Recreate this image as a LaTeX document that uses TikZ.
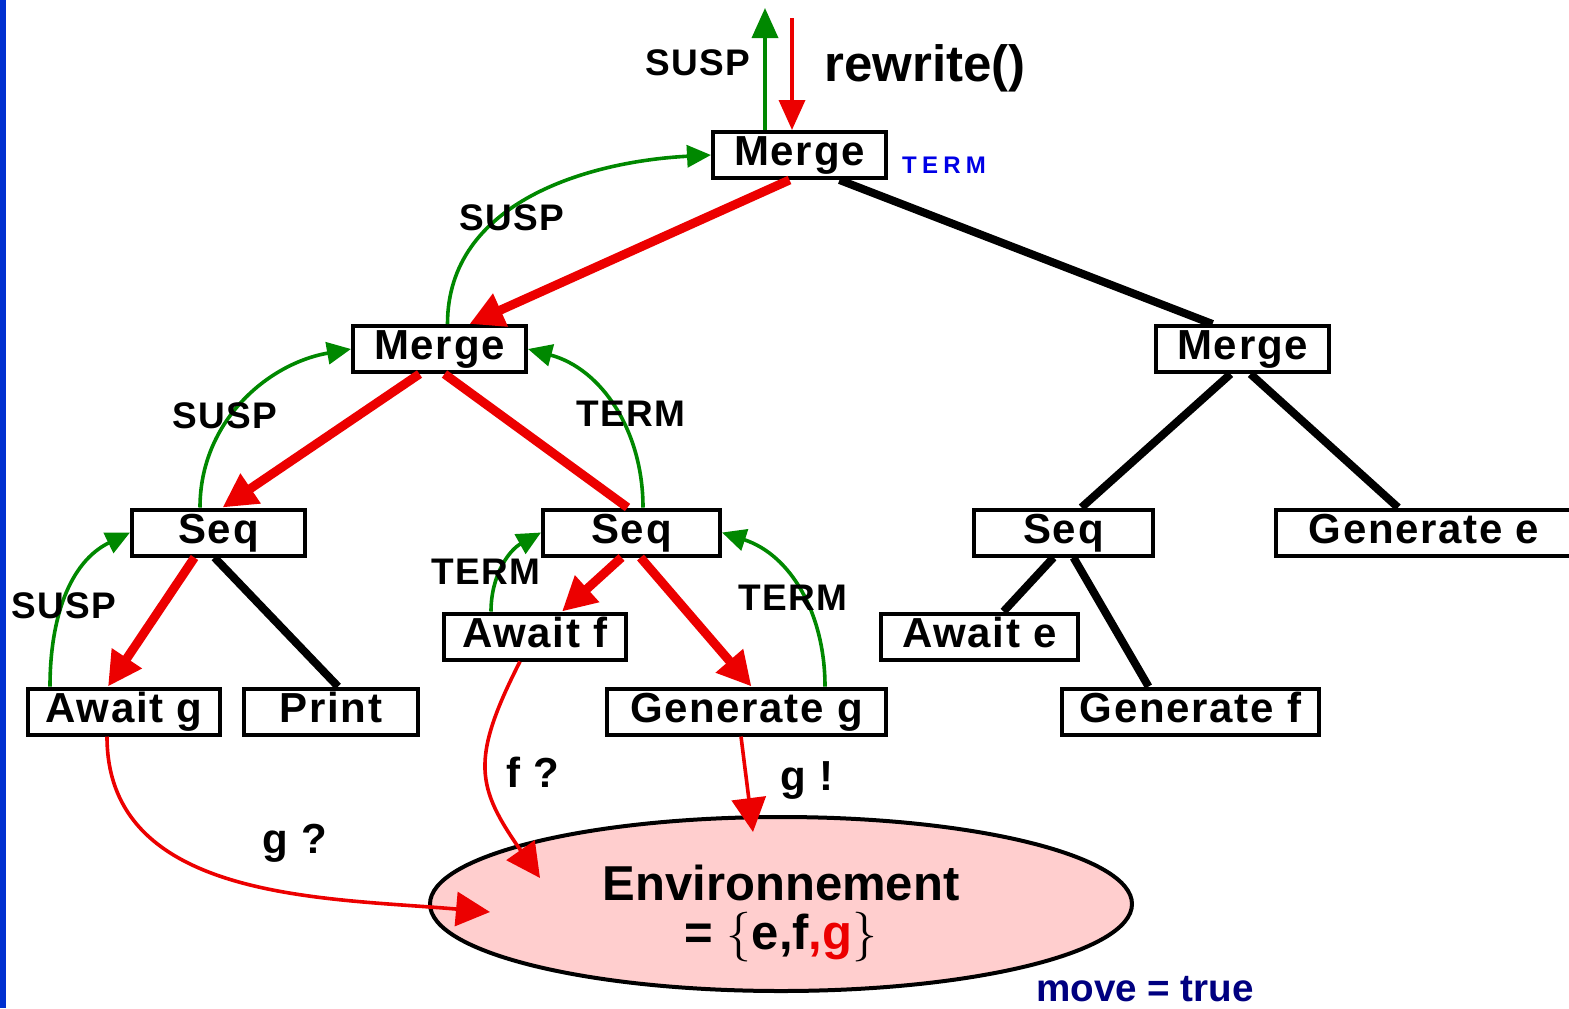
\documentclass[tikz,border=0pt]{standalone}
\usepackage{fontspec}
\setmainfont{Liberation Sans}
\newfontfamily\treefont{Liberation Sans}[LetterSpace=4]
\newfontfamily\widefont{Liberation Sans}[LetterSpace=22]
\usetikzlibrary{arrows.meta,shapes.geometric}
\newcommand\fsz[1]{\fontsize{#1}{#1}\selectfont}
\definecolor{grn}{RGB}{0,136,0}
\definecolor{rd}{RGB}{236,0,0}
\definecolor{barblue}{RGB}{0,48,208}
\definecolor{envfill}{RGB}{255,206,206}
\definecolor{navy}{RGB}{0,0,128}
\definecolor{termblue}{RGB}{0,0,230}

\begin{document}
\begin{tikzpicture}[x=0.5pt,y=-0.5pt,
  box/.style={draw, line width=2pt, fill=white, minimum height=23pt, inner sep=0pt,
              text height=15pt, text depth=4.4pt, font=\treefont\bfseries\fsz{21pt}},
  lab/.style={anchor=base, inner sep=0pt, font=\treefont\bfseries\fsz{18.5pt}},
  biglab/.style={anchor=base, inner sep=0pt, font=\treefont\bfseries\fsz{21pt}},
  tree/.style={line width=4pt},
  hot/.style={rd, line width=4.5pt},
  hotarrow/.style={hot, -{Triangle[length=17pt,width=17pt]}},
  ctl/.style={grn, line width=1.8pt, -{Triangle[length=12pt,width=11pt]}},
  sig/.style={rd, line width=1.8pt, -{Triangle[length=17pt,width=17pt]}},
]
\clip (0,0) rectangle (1569,1008);
\fill[white] (0,0) rectangle (1569,1008);
\fill[barblue] (0,0) rectangle (5.5,1008);

% tree nodes
\node[box, minimum width=86.5pt] (mT) at (799.5,155) {Merge};
\node[box, minimum width=86.5pt] (mL) at (439.5,349) {Merge};
\node[box, minimum width=86.5pt] (mR) at (1242.5,349) {Merge};
\node[box, minimum width=86.5pt] (sL) at (218.5,532.5) {Seq};
\node[box, minimum width=88.5pt] (sM) at (631.5,532.5) {Seq};
\node[box, minimum width=89.5pt] (sR) at (1063.5,532.5) {Seq};
\node[box, minimum width=148pt] (gE) at (1424,532.5) {Generate e};
\node[box, minimum width=96pt] (aG) at (124,711.5) {Await g};
\node[box, minimum width=87pt] (pr) at (331,711.5) {Print};
\node[box, minimum width=91pt] (aF) at (535,636.5) {Await f};
\node[box, minimum width=139.5pt] (gG) at (746.5,711.5) {Generate g};
\node[box, minimum width=98.5pt] (aE) at (979.5,636.5) {Await e};
\node[box, minimum width=128.5pt] (gF) at (1190.5,711.5) {Generate f};

% environment
\node[ellipse, draw, line width=2pt, fill=envfill, minimum width=351pt,
      minimum height=87pt, inner sep=0pt] (env) at (781,904) {};
\node[align=center, inner sep=0pt, font=\bfseries\fsz{24.5pt}] (envt) at (781,913)
  {Environnement\\= \(\{\)e,f\textcolor{rd}{,g}\(\}\)};

% tree edges
\draw[tree] ([xshift=20pt]mT.south) -- ([xshift=-15pt]mR.north);
\draw[hotarrow] ([xshift=-5pt]mT.south) -- ([xshift=15pt]mL.north);
\draw[hotarrow] ([xshift=-10pt]mL.south) -- ([xshift=2pt]sL.north);
\draw[hot] ([xshift=2.5pt]mL.south) -- ([xshift=-2pt]sM.north);
\draw[tree] ([xshift=-6pt]mR.south) -- ([xshift=9pt]sR.north);
\draw[tree] ([xshift=4pt]mR.south) -- ([xshift=-13pt]gE.north);
\draw[hotarrow] ([xshift=-12pt]sL.south) -- ([xshift=-8pt]aG.north);
\draw[tree] ([xshift=-2pt]sL.south) -- ([xshift=3.5pt]pr.north);
\draw[hotarrow] ([xshift=-5pt]sM.south) -- ([xshift=13.5pt]aF.north);
\draw[hotarrow] ([xshift=4.5pt]sM.south) -- ([xshift=2.5pt]gG.north);
\draw[tree] ([xshift=-5pt]sR.south) -- ([xshift=12pt]aE.north);
\draw[tree] ([xshift=5pt]sR.south) -- ([xshift=-21pt]gF.north);

% status returns
\draw[ctl] ([xshift=4pt]mL.north) to[out=90,in=183] (mT.west);
\draw[ctl] ([xshift=-9.25pt]sL.north) to[out=90,in=190] (mL.west);
\draw[ctl] ([xshift=5.75pt]sM.north) to[out=90,in=-15] (mL.east);
\draw[ctl] ([xshift=-37pt]aG.north) to[out=90,in=206] (sL.west);
\draw[ctl] ([xshift=-22pt]aF.north) to[out=90,in=209] (sM.west);
\draw[ctl] ([xshift=39.25pt]gG.north) to[out=90,in=-18] (sM.east);

% call from above
\coordinate (up) at (765,8);
\coordinate (down) at (792,18);
\draw[grn, line width=1.8pt, -{Triangle[length=15pt,width=13pt]}] ([xshift=-17.25pt]mT.north) -- (up);
\draw[rd, line width=1.8pt, -{Triangle[length=15pt,width=13pt]}] (down) -- ([xshift=-3.75pt]mT.north);

% signal queries and emissions
\draw[sig] ([xshift=-8.5pt]aG.south) to[out=-90,in=175] ([xshift=-145.5pt,yshift=-4pt]env.center);
\draw[sig] ([xshift=-7.5pt]aF.south) to[out=-117,in=125,looseness=1.3] ([xshift=-120.5pt,yshift=13pt]env.center);
\draw[sig] ([xshift=-2.75pt]gG.south) -- ([xshift=-14pt,yshift=36pt]env.center);

% labels
\node[lab] (l1) at (698,75) {SUSP};
\node[lab] (l2) at (512,230) {SUSP};
\node[lab] (l3) at (225,428) {SUSP};
\node[lab] (l4) at (631,426) {TERM};
\node[lab] (l5) at (64,618) {SUSP};
\node[lab] (l6) at (486,584) {TERM};
\node[lab] (l7) at (793,610) {TERM};
\node[anchor=base, inner sep=0pt, font=\bfseries\fsz{25.5pt}] (rw) at (925,81) {rewrite()};
\node[anchor=base, inner sep=0pt, text=termblue, font=\widefont\bfseries\fsz{12pt}] (tb) at (944,173) {TERM};
\node[biglab] (fq) at (533,787) {f ?};
\node[biglab] (gx) at (807,790) {g !};
\node[biglab] (gq) at (295,853) {g ?};
\node[anchor=base, inner sep=0pt, text=navy, font=\bfseries\fsz{19.3pt}] (mv) at (1145,1001) {move = true};
\end{tikzpicture}
\end{document}
